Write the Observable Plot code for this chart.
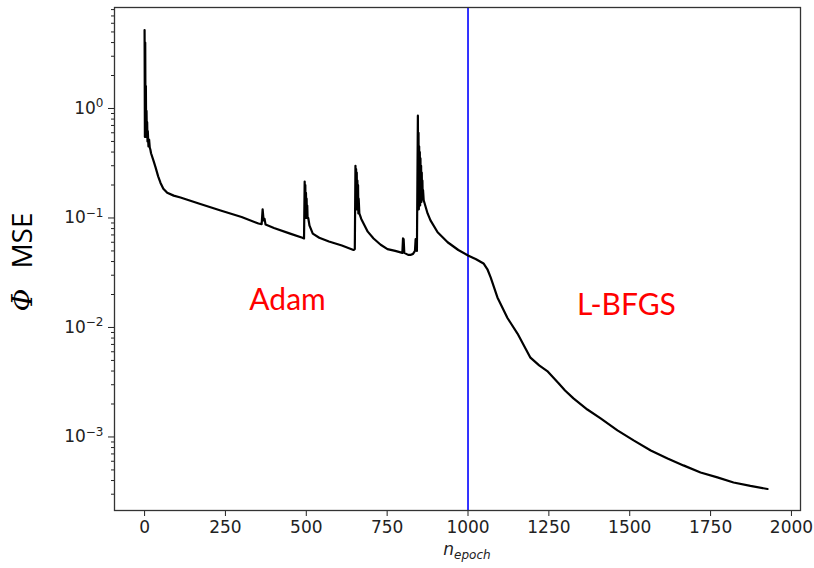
<!DOCTYPE html>
<html><head><meta charset="utf-8">
<script src="https://cdn.jsdelivr.net/npm/d3@7"></script>
<script src="https://cdn.jsdelivr.net/npm/@observablehq/plot@0.6"></script>
<style>body{margin:0;background:#fff} #chart{width:814px;height:568px}</style>
</head><body><div id="chart"></div>
<script>
const epochs = [0,1,2,3,4,5,6,7,8,9,10,12,14,16,18,20,28,34,42,49,58,70,90,111,170,235,300,352,362,365,368,371,374,400,450,488,493,495,496,497,498,499,500,501,502,503,504,506,510,520,540,570,610,646,650,652,653,654,655,656,657,658,659,660,661,662,664,670,677,690,708,730,751,775,797,799,801,803,815,822,830,836,838,840,842,845,846,847,848,849,850,851,852,853,854,855,856,857,858,859,860,861,863,875,884,906,937,970,1000,1025,1048,1060,1070,1091,1122,1153,1193,1220,1245,1280,1300,1326,1369,1410,1462,1512,1565,1617,1666,1719,1771,1821,1873,1926];
const mse = [5.2,0.55,4.0,0.6,1.6,0.55,0.95,0.6,0.75,0.5,0.62,0.45,0.52,0.44,0.42,0.39,0.33,0.29,0.24,0.21,0.185,0.17,0.16,0.154,0.135,0.117,0.102,0.089,0.088,0.12,0.095,0.098,0.087,0.081,0.072,0.066,0.065,0.215,0.11,0.2,0.10,0.17,0.11,0.15,0.10,0.13,0.10,0.10,0.085,0.072,0.066,0.061,0.056,0.051,0.052,0.30,0.14,0.28,0.12,0.26,0.13,0.22,0.12,0.2,0.11,0.15,0.11,0.098,0.089,0.075,0.065,0.057,0.052,0.050,0.048,0.065,0.064,0.048,0.046,0.046,0.047,0.050,0.064,0.063,0.05,0.86,0.13,0.6,0.12,0.45,0.13,0.4,0.13,0.35,0.14,0.3,0.14,0.26,0.15,0.22,0.15,0.18,0.145,0.11,0.095,0.074,0.06,0.051,0.0455,0.042,0.0384,0.034,0.0287,0.0188,0.0122,0.0088,0.0053,0.0045,0.0040,0.0031,0.00266,0.00225,0.00178,0.00148,0.00115,0.00093,0.000753,0.000637,0.000550,0.000474,0.000427,0.000384,0.000357,0.000335];
const xTicks = [0,250,500,750,1000,1250,1500,1750,2000];
const yMajor = [1e-3,1e-2,1e-1,1e0];
const yMajorExponents = ["\u22123","\u22122","\u22121","0"];
const yMinor = [3e-4,4e-4,5e-4,6e-4,7e-4,8e-4,9e-4,2e-3,3e-3,4e-3,5e-3,6e-3,7e-3,8e-3,9e-3,2e-2,3e-2,4e-2,5e-2,6e-2,7e-2,8e-2,9e-2,0.2,0.3,0.4,0.5,0.6,0.7,0.8,0.9,2,3,4,5,6,7,8];
const switchEpoch = [1000];
const phaseLabels = ["Adam","L-BFGS"];
const phaseX = [442, 1490];
const phaseY = [0.0177, 0.0159];

const data = epochs.map((e,i)=>({epoch:e, mse:mse[i]}));

const plot = Plot.plot({
  width: 814, height: 568,
  marginLeft: 114, marginRight: 14, marginTop: 7, marginBottom: 58,
  style: {fontFamily: "DejaVu Sans", fontSize: "17px", color: "#222", background: "#fff"},
  x: {domain: [-93, 2028]},
  y: {type: "log", domain: [2.13e-4, 8.36]},
  marks: [
    Plot.axisX({ticks: xTicks, tickSize: 6, tickPadding: 4, label: null, tickFormat: d => String(d), fontSize: 17}),
    Plot.axisY({ticks: yMinor, tickSize: 3, tickFormat: () => "", label: null}),
    Plot.axisY({ticks: yMajor, tickSize: 6, tickPadding: 5, label: null, fontSize: 17,
      tickFormat: d => "10^" + yMajorExponents[yMajor.indexOf(d)]}),
    Plot.ruleX(switchEpoch, {stroke: "#0000ff", strokeWidth: 1.6}),
    Plot.line(data, {x: "epoch", y: "mse", stroke: "black", strokeWidth: 2.2}),
    Plot.text(phaseLabels, {x: (d,i) => phaseX[i], y: (d,i) => phaseY[i], text: d => d,
      fill: "#ff0000", fontSize: 30, fontFamily: "Lato"}),
    Plot.frame({stroke: "#333", strokeWidth: 1.3})
  ]
});
document.getElementById("chart").appendChild(plot);

const svg = d3.select(plot);
// turn "10^e" labels into 10 with superscript exponent
svg.selectAll("text").each(function() {
  const t = d3.select(this);
  const s = t.text();
  const m = /^10\^(.+)$/.exec(s);
  if (m) {
    t.text("10");
    t.append("tspan").attr("font-size", 12).attr("dy", "-0.55em").text(m[1]);
  }
});

const yl = svg.append("text")
  .attr("transform", "translate(32,262) rotate(-90)")
  .attr("text-anchor", "middle")
  .attr("font-family", "Open Sans")
  .attr("font-size", 28)
  .attr("fill", "#000");
yl.append("tspan").attr("font-style", "italic").attr("font-family", "DejaVu Serif").text("\u03A6");
yl.append("tspan").attr("dx", 20).text("MSE");

const xl = svg.append("text")
  .attr("x", 467).attr("y", 555)
  .attr("text-anchor", "middle")
  .attr("font-family", "DejaVu Sans")
  .attr("font-style", "italic")
  .attr("fill", "#222");
xl.append("tspan").attr("font-size", 17).text("n");
xl.append("tspan").attr("font-size", 12).attr("dy", 4).text("epoch");
</script>
</body></html>
